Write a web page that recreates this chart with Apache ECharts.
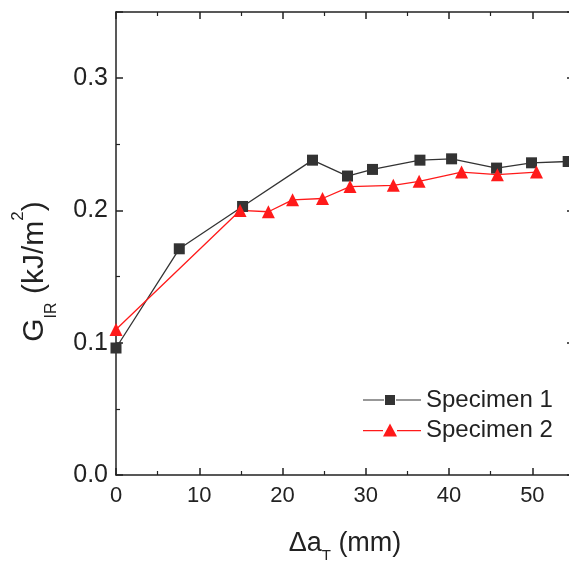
<!DOCTYPE html>
<html><head><meta charset="utf-8">
<script src="https://cdn.jsdelivr.net/npm/echarts@6/dist/echarts.min.js"></script>
<style>html,body{margin:0;padding:0;background:#fff}#c{width:569px;height:561px}</style>
</head><body><div id="c"></div>
<script>
const spec1X = [0, 7.6, 15.2, 23.6, 27.8, 30.8, 36.5, 40.3, 45.7, 49.9, 54.3];
const spec1Y = [0.096, 0.171, 0.203, 0.238, 0.226, 0.231, 0.238, 0.239, 0.232, 0.236, 0.237];
const spec2X = [0, 14.9, 18.3, 21.2, 24.8, 28.1, 33.3, 36.4, 41.5, 45.8, 50.5];
const spec2Y = [0.110, 0.200, 0.199, 0.208, 0.209, 0.218, 0.219, 0.222, 0.229, 0.227, 0.229];
const seriesNames = ['Specimen 1', 'Specimen 2'];
const xTicks = [0, 10, 20, 30, 40, 50];
const yTicks = [0.0, 0.1, 0.2, 0.3];

const FONT = 'Liberation Sans, Arial, sans-serif';
const chart = echarts.init(document.getElementById('c'));
const pair = (xs, ys) => xs.map((x, i) => [x, ys[i]]);
const axisLine = {show: true, onZero: false, lineStyle: {color: '#222', width: 1.5}};
const tick = {show: true, inside: true, length: 7, lineStyle: {color: '#222', width: 1.5}};
const minor = {show: true, splitNumber: 2, length: 4, lineStyle: {color: '#222', width: 1.2}};

chart.setOption({
  animation: false,
  backgroundColor: '#fff',
  grid: {left: 116, right: -5, top: 12, bottom: 86, containLabel: false, outerBoundsMode: 'none'},
  legend: {
    left: 363, top: 388, orient: 'vertical', itemGap: 6, padding: 0,
    itemWidth: 58, itemHeight: 16,
    textStyle: {fontFamily: FONT, fontSize: 24, color: '#222'},
    data: [
      {name: seriesNames[0], icon: 'path://M0,7.5h21v1h-21z M22,3h10v10h-10z M33,7.5h25v1h-25z'},
      {name: seriesNames[1], icon: 'path://M0,7.5h20v1.2h-20z M27,1l7,13h-14z M34,7.5h24v1.2h-24z'}
    ]
  },
  xAxis: [{
    type: 'value', min: 0, max: 55, interval: 10,
    axisLine, axisTick: tick, minorTick: minor, splitLine: {show: false},
    axisLabel: {fontFamily: FONT, fontSize: 22, color: '#222', margin: 10, showMaxLabel: false,
      formatter: v => xTicks.includes(v) ? String(v) : ''},
    name: '{a|Δa}{s|T}{a| (mm)}', nameLocation: 'middle', nameGap: 55,
    nameTextStyle: {rich: {
      a: {fontFamily: FONT, fontSize: 27, color: '#222'},
      s: {fontFamily: FONT, fontSize: 15, color: '#222', verticalAlign: 'bottom', padding: [0, 0, -6, 0]}
    }}
  }, {
    type: 'value', position: 'top', min: 0, max: 55, interval: 10,
    axisLine, axisTick: tick, minorTick: minor, axisLabel: {show: false}, splitLine: {show: false}
  }],
  yAxis: [{
    type: 'value', min: 0, max: 0.35, interval: 0.1,
    axisLine, axisTick: tick, minorTick: minor, splitLine: {show: false},
    axisLabel: {fontFamily: FONT, fontSize: 25, color: '#222', margin: 8, showMaxLabel: false,
      formatter: v => yTicks.some(t => Math.abs(t - v) < 1e-9) ? v.toFixed(1) : ''},
    name: '{a|G}{s|IR}{a| (kJ/m}{p|2}{a|)}', nameLocation: 'middle', nameGap: 66, nameRotate: 90,
    nameTextStyle: {padding: [0, 56, 0, 0], rich: {
      a: {fontFamily: FONT, fontSize: 30, color: '#222'},
      s: {fontFamily: FONT, fontSize: 16, color: '#222', verticalAlign: 'bottom', padding: [0, 0, -10, 0]},
      p: {fontFamily: FONT, fontSize: 17, color: '#222', verticalAlign: 'top', padding: [-10, 0, 0, 0]}
    }}
  }, {
    type: 'value', position: 'right', min: 0, max: 0.35, interval: 0.1,
    axisLine, axisTick: tick, minorTick: minor, axisLabel: {show: false}, splitLine: {show: false}
  }],
  series: [{
    name: seriesNames[0], type: 'line', data: pair(spec1X, spec1Y),
    symbol: 'rect', symbolSize: 11, color: '#333',
    lineStyle: {color: '#333', width: 1.3}, itemStyle: {color: '#333'}, clip: false
  }, {
    name: seriesNames[1], type: 'line', data: pair(spec2X, spec2Y),
    symbol: 'triangle', symbolSize: 13, color: '#ff1a1a',
    lineStyle: {color: '#ff1a1a', width: 1.3}, itemStyle: {color: '#ff1a1a'}, clip: false
  }]
});
</script></body></html>
